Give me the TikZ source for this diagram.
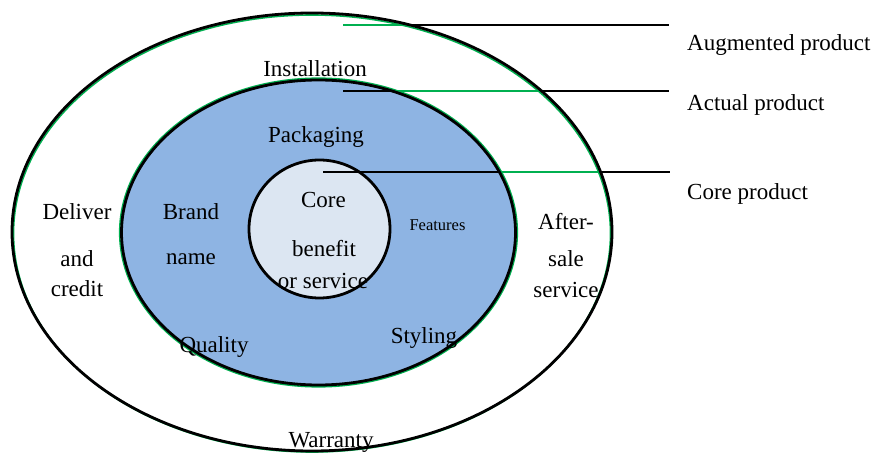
\documentclass[tikz,border=0pt]{standalone}
\usepackage{fontspec}
\setmainfont{Liberation Serif}
\definecolor{midblue}{RGB}{142,180,227}
\definecolor{coreblue}{RGB}{220,230,242}
\definecolor{fringe}{RGB}{0,176,80}
\begin{document}
\begin{tikzpicture}[x=1pt,y=-1pt,
  lbl/.style={inner sep=0pt,anchor=base,font=\fontsize{23}{27}\selectfont},
  smalllbl/.style={inner sep=0pt,anchor=base,font=\fontsize{16.5}{20}\selectfont},
  sideleft/.style={inner sep=0pt,anchor=base west,font=\fontsize{23}{27}\selectfont},
  leader/.style={line width=2.2pt,black},
  leadergreen/.style={line width=2.2pt,fringe},
  rim/.style={line width=2.8pt,black},
  rimgreen/.style={line width=1.6pt,fringe}]
\useasboundingbox (0,0) rectangle (875,454);
% fills
\fill[white] (312,232) ellipse [x radius=300pt,y radius=219pt];
\fill[midblue] (318.5,232.5) ellipse [x radius=197pt,y radius=152.5pt];
\fill[coreblue] (319.5,229) ellipse [x radius=70.5pt,y radius=69pt];
% leader coordinates
\coordinate (a1) at (343,25);
\coordinate (a2) at (669,25);
\coordinate (b1) at (343,91);
\coordinate (b2) at (669,91);
\coordinate (c1) at (323,172);
\coordinate (c2) at (670,172);
\draw[leader] (a1) -- (a2);
\draw[leader] (b1) -- (b2);
\draw[leader] (c1) -- (c2);
\begin{scope}[even odd rule]
  \clip (312,232) ellipse [x radius=300pt,y radius=219pt]
     (318.5,232.5) ellipse [x radius=197pt,y radius=152.5pt];
  \draw[leadergreen] (a1) -- (a2);
  \draw[leadergreen] (b1) -- (b2);
  \draw[leadergreen] (c1) -- (c2);
\end{scope}
% rims
\draw[rimgreen] (312,233.5) ellipse [x radius=298.5pt,y radius=218.5pt];
\draw[rim] (312,232) ellipse [x radius=300pt,y radius=219pt];
\draw[rimgreen] (318.5,232.5) ellipse [x radius=198.8pt,y radius=154.3pt];
\draw[rim] (318.5,232.5) ellipse [x radius=197pt,y radius=152.5pt];
\draw[rim] (319.5,229) ellipse [x radius=70.5pt,y radius=69pt];
% right-hand labels
\node[sideleft] (aug) at (687,51) {Augmented product};
\node[sideleft] (act) at (687,111) {Actual product};
\node[sideleft] (cor) at (687,200) {Core product};
% ring labels
\node[lbl] (inst) at (315,77) {Installation};
\node[lbl] (pack) at (316,143) {Packaging};
\node[lbl] (brand) at (191,220) {Brand};
\node[lbl] (name) at (191,265) {name};
\node[lbl] (core) at (323.5,208) {Core};
\node[lbl] (bene) at (324,257) {benefit};
\node[lbl] (orse) at (323,288) {or service};
\node[smalllbl] (feat) at (437.5,231) {Features};
\node[lbl] (deli) at (77,220) {Deliver};
\node[lbl] (and) at (77,266) {and};
\node[lbl] (cred) at (77,297) {credit};
\node[lbl] (aft) at (566,230) {After-};
\node[lbl] (sale) at (566,266) {sale};
\node[lbl] (serv) at (566,298) {service};
\node[lbl] (qual) at (214,352) {Quality};
\node[lbl] (styl) at (424,343) {Styling};
\node[lbl] (warr) at (331,447) {Warranty};
\end{tikzpicture}
\end{document}
